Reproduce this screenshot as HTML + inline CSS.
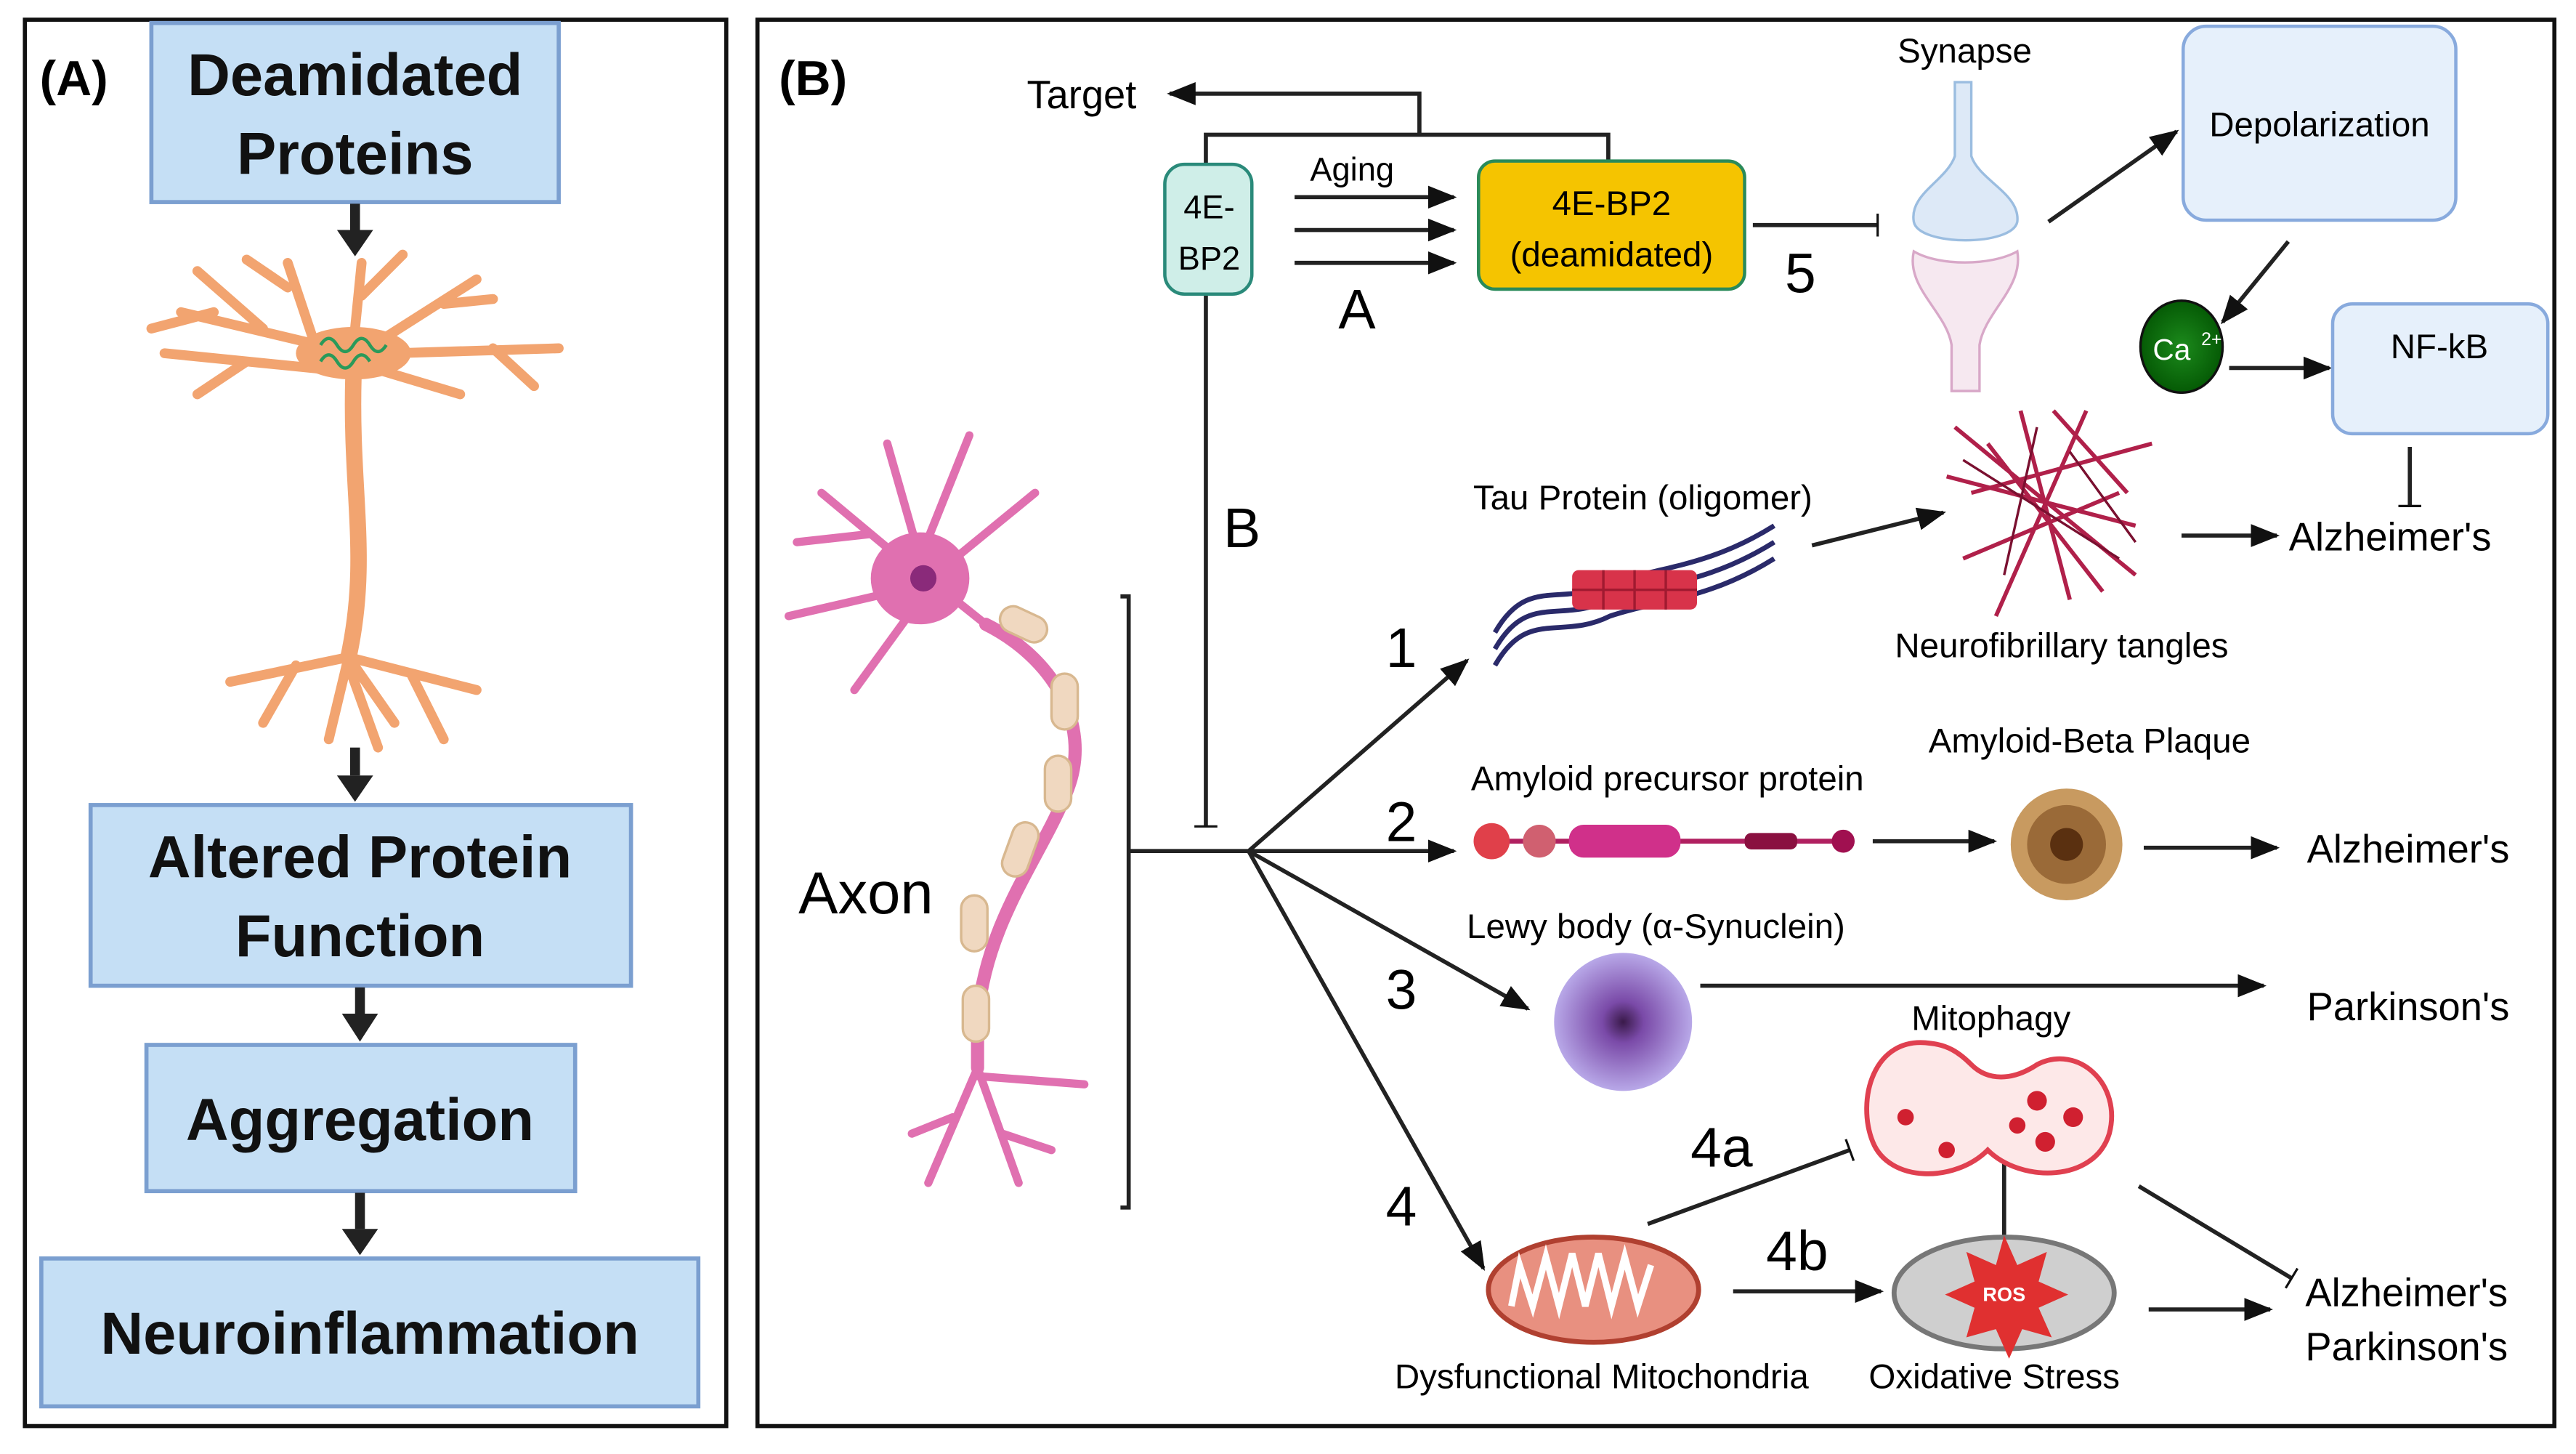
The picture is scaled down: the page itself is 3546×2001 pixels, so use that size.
<!DOCTYPE html>
<html><head><meta charset="utf-8"><style>
html,body{margin:0;padding:0;background:#fff;}
svg{display:block;}
text{font-family:"Liberation Sans",sans-serif;}
</style></head><body>
<svg width="3546" height="2001" viewBox="0 0 1568 885" xmlns="http://www.w3.org/2000/svg">
<defs>
<marker id="ah" viewBox="0 0 10 10" refX="9" refY="5" markerWidth="7" markerHeight="7" orient="auto-start-reverse"><path d="M0,1 L10,5 L0,9 z" fill="#111"/></marker>
<marker id="bar" viewBox="0 0 4 20" refX="2" refY="10" markerWidth="4" markerHeight="14" orient="auto" markerUnits="userSpaceOnUse"><rect x="1" y="0" width="2" height="20" fill="#111"/></marker>
<radialGradient id="lewy"><stop offset="0" stop-color="#3a1a4a"/><stop offset="0.3" stop-color="#7a4aa8"/><stop offset="1" stop-color="#b8a8e8"/></radialGradient>
<radialGradient id="ca"><stop offset="0" stop-color="#1c8a1c"/><stop offset="1" stop-color="#055a05"/></radialGradient>
</defs>
<rect width="1568" height="885" fill="#fff"/>
<!-- Panel A -->
<rect x="15" y="12" width="427" height="856" fill="none" stroke="#111" stroke-width="2.5"/>
<text x="24" y="58" font-size="30" font-weight="bold">(A)</text>
<g fill="#c5dff5" stroke="#7b9fd0" stroke-width="2.5">
<rect x="92" y="14" width="248" height="109"/>
<rect x="55" y="490" width="329" height="110"/>
<rect x="89" y="636" width="261" height="89"/>
<rect x="25" y="766" width="400" height="90"/>
</g>
<g font-weight="bold" font-size="36" text-anchor="middle" fill="#111">
<text x="216" y="58">Deamidated</text><text x="216" y="106">Proteins</text>
<text x="219" y="534">Altered Protein</text><text x="219" y="582">Function</text>
<text x="219" y="694">Aggregation</text>
<text x="225" y="824">Neuroinflammation</text>
</g>
<g stroke="#222" stroke-width="6">
<line x1="216" y1="124" x2="216" y2="140"/><line x1="216" y1="455" x2="216" y2="472"/>
<line x1="219" y1="601" x2="219" y2="617"/><line x1="219" y1="726" x2="219" y2="748"/>
</g>
<g fill="#222"><path d="M205,140 L227,140 L216,156z"/><path d="M205,472 L227,472 L216,488z"/><path d="M208,617 L230,617 L219,634z"/><path d="M208,748 L230,748 L219,764z"/></g>
<!-- orange neuron -->
<g stroke="#f2a470" stroke-width="6" fill="none" stroke-linecap="round">
<path d="M215,215 L110,190 M160,200 L120,165 M130,190 L92,200 M190,205 L175,160 M175,175 L150,158 M215,210 L220,160 M220,180 L245,155 M235,205 L290,170 M270,185 L300,182 M240,215 L340,212 M300,212 L325,235 M200,225 L100,215 M150,220 L120,240 M230,225 L280,240"/>
<path d="M215,230 C213,300 225,340 212,400" stroke-width="10"/>
<path d="M212,400 L140,415 M180,405 L160,440 M212,400 L200,450 M212,400 L240,440 M212,400 L290,420 M250,410 L270,450 M212,405 L230,455"/>
</g>
<ellipse cx="215" cy="215" rx="35" ry="16" fill="#f2a470"/>
<path d="M195,210 q5,-8 10,0 q5,8 10,0 q5,-8 10,0 q5,8 10,0 M195,220 q5,-8 10,0 q5,8 10,0 q5,-8 10,0" stroke="#2a9a5a" stroke-width="2" fill="none"/>
<!-- Panel B -->
<rect x="461" y="12" width="1094" height="856" fill="none" stroke="#111" stroke-width="2.5"/>
<text x="474" y="58" font-size="30" font-weight="bold">(B)</text>
<text x="625" y="66" font-size="24">Target</text>
<g stroke="#222" stroke-width="2.5" fill="none">
<path d="M864,82 L864,57 L712,57" marker-end="url(#ah)"/>
<path d="M734,100 L734,82 L979,82 L979,98"/>
<line x1="788" y1="120" x2="885" y2="120" marker-end="url(#ah)"/>
<line x1="788" y1="140" x2="885" y2="140" marker-end="url(#ah)"/>
<line x1="788" y1="160" x2="885" y2="160" marker-end="url(#ah)"/>
<line x1="1067" y1="137" x2="1143" y2="137" marker-end="url(#bar)"/>
<line x1="734" y1="180" x2="734" y2="503" marker-end="url(#bar)"/>
<line x1="1247" y1="135" x2="1325" y2="80" marker-end="url(#ah)"/>
<line x1="1393" y1="147" x2="1353" y2="196" marker-end="url(#ah)"/>
<line x1="1357" y1="224" x2="1418" y2="224" marker-end="url(#ah)"/>
<line x1="1467" y1="272" x2="1467" y2="308" marker-end="url(#bar)"/>
<line x1="1103" y1="332" x2="1183" y2="312" marker-end="url(#ah)"/>
<line x1="1328" y1="326" x2="1386" y2="326" marker-end="url(#ah)"/>
<path d="M682,363 L687,363 L687,735 L682,735"/>
<line x1="687" y1="518" x2="760" y2="518"/>
<line x1="760" y1="518" x2="893" y2="402" marker-end="url(#ah)"/>
<line x1="760" y1="518" x2="885" y2="518" marker-end="url(#ah)"/>
<line x1="760" y1="518" x2="930" y2="614" marker-end="url(#ah)"/>
<line x1="760" y1="518" x2="903" y2="772" marker-end="url(#ah)"/>
<line x1="1140" y1="512" x2="1214" y2="512" marker-end="url(#ah)"/>
<line x1="1305" y1="516" x2="1386" y2="516" marker-end="url(#ah)"/>
<line x1="1035" y1="600" x2="1378" y2="600" marker-end="url(#ah)"/>
<line x1="1003" y1="745" x2="1126" y2="700" marker-end="url(#bar)"/>
<line x1="1055" y1="786" x2="1145" y2="786" marker-end="url(#ah)"/>
<line x1="1220" y1="760" x2="1220" y2="703" marker-end="url(#bar)"/>
<line x1="1302" y1="722" x2="1395" y2="778" marker-end="url(#bar)"/>
<line x1="1308" y1="797" x2="1382" y2="797" marker-end="url(#ah)"/>
</g>
<rect x="709" y="100" width="53" height="79" rx="12" fill="#cfeee8" stroke="#2a8a7a" stroke-width="2"/>
<text x="736" y="133" font-size="20" text-anchor="middle">4E-</text><text x="736" y="164" font-size="20" text-anchor="middle">BP2</text>
<text x="823" y="110" font-size="20" text-anchor="middle">Aging</text>
<text x="826" y="200" font-size="34" text-anchor="middle">A</text>
<rect x="900" y="98" width="162" height="78" rx="10" fill="#f5c400" stroke="#2a8a5a" stroke-width="2"/>
<text x="981" y="131" font-size="21" text-anchor="middle">4E-BP2</text>
<text x="981" y="162" font-size="21" text-anchor="middle">(deamidated)</text>
<text x="1096" y="178" font-size="34" text-anchor="middle">5</text>
<text x="1196" y="38" font-size="21" text-anchor="middle">Synapse</text>
<path d="M1190,50 L1190,95 C1185,110 1162,118 1165,135 C1168,150 1225,150 1228,135 C1230,118 1205,110 1200,95 L1200,50 z" fill="#dde9f7" stroke="#9bbde0" stroke-width="1.5"/>
<path d="M1165,153 C1180,162 1212,162 1228,153 C1232,175 1208,190 1205,210 L1205,238 L1188,238 L1188,210 C1185,190 1160,175 1165,153 z" fill="#f6e8f0" stroke="#d8a8c8" stroke-width="1.5"/>
<rect x="1329" y="16" width="166" height="118" rx="14" fill="#e6f0fb" stroke="#88aadd" stroke-width="2"/>
<text x="1412" y="83" font-size="21" text-anchor="middle">Depolarization</text>
<ellipse cx="1328" cy="211" rx="25" ry="28" fill="url(#ca)" stroke="#111" stroke-width="1.5"/>
<text x="1322" y="219" font-size="18" fill="#fff" text-anchor="middle">Ca</text><text x="1340" y="210" font-size="11" fill="#fff">2+</text>
<rect x="1420" y="185" width="131" height="79" rx="12" fill="#e6f0fb" stroke="#88aadd" stroke-width="2"/>
<text x="1485" y="218" font-size="21" text-anchor="middle">NF-kB</text>
<!-- tangles -->
<g stroke="#b0204a" stroke-width="2.5" fill="none">
<path d="M1190,260 L1300,350 M1200,300 L1310,270 M1195,340 L1290,300 M1230,250 L1260,365 M1270,250 L1215,375 M1185,290 L1300,320 M1210,270 L1280,360 M1250,250 L1295,300"/>
</g>
<g stroke="#7a1030" stroke-width="1.5" fill="none"><path d="M1195,280 L1290,340 M1240,260 L1220,350 M1260,275 L1300,330"/></g>
<text x="1000" y="310" font-size="21" text-anchor="middle">Tau Protein (oligomer)</text>
<g stroke="#2a2a6a" stroke-width="3" fill="none">
<path d="M910,385 C930,350 950,370 980,355 C1010,345 1040,345 1080,320"/>
<path d="M910,395 C930,360 950,380 980,365 C1010,355 1040,355 1080,330"/>
<path d="M910,405 C930,370 950,390 980,375 C1010,365 1040,365 1080,340"/>
</g>
<g fill="#d8334a"><rect x="957" y="347" width="76" height="24" rx="4"/></g>
<g stroke="#a01a30" stroke-width="1.5"><line x1="976" y1="347" x2="976" y2="371"/><line x1="995" y1="347" x2="995" y2="371"/><line x1="1014" y1="347" x2="1014" y2="371"/><line x1="957" y1="359" x2="1033" y2="359"/></g>
<text x="1148" y="334" font-size="0"> </text>
<text x="1255" y="400" font-size="21" text-anchor="middle">Neurofibrillary tangles</text>
<text x="1455" y="335" font-size="24" text-anchor="middle">Alzheimer's</text>
<text x="756" y="333" font-size="34" text-anchor="middle">B</text>
<text x="853" y="406" font-size="34" text-anchor="middle">1</text>
<text x="853" y="512" font-size="34" text-anchor="middle">2</text>
<text x="853" y="614" font-size="34" text-anchor="middle">3</text>
<text x="853" y="746" font-size="34" text-anchor="middle">4</text>
<text x="1015" y="481" font-size="21" text-anchor="middle">Amyloid precursor protein</text>
<line x1="905" y1="512" x2="1125" y2="512" stroke="#b02060" stroke-width="3"/>
<circle cx="908" cy="512" r="11" fill="#e0404a"/><circle cx="937" cy="512" r="10" fill="#d06070"/>
<rect x="955" y="502" width="68" height="20" rx="9" fill="#d0308a"/>
<rect x="1062" y="507" width="32" height="10" rx="4" fill="#8a1040"/><circle cx="1122" cy="512" r="7" fill="#a01050"/>
<text x="1272" y="458" font-size="21" text-anchor="middle">Amyloid-Beta Plaque</text>
<circle cx="1258" cy="514" r="34" fill="#c89a60"/><circle cx="1258" cy="514" r="24" fill="#9a6a38"/><circle cx="1258" cy="514" r="10" fill="#5a3010"/>
<text x="1466" y="525" font-size="24" text-anchor="middle">Alzheimer's</text>
<text x="1008" y="571" font-size="21" text-anchor="middle">Lewy body (α-Synuclein)</text>
<circle cx="988" cy="622" r="42" fill="url(#lewy)"/>
<text x="1466" y="621" font-size="24" text-anchor="middle">Parkinson's</text>
<text x="1212" y="627" font-size="21" text-anchor="middle">Mitophagy</text>
<path d="M1175,635 C1140,630 1130,670 1140,695 C1150,720 1190,720 1210,700 C1230,720 1275,720 1284,690 C1292,660 1265,635 1240,648 C1225,658 1210,658 1200,648 C1192,640 1185,636 1175,635 z" fill="#fde8e8" stroke="#e04050" stroke-width="3"/>
<g fill="#d02030"><circle cx="1240" cy="670" r="6"/><circle cx="1262" cy="680" r="6"/><circle cx="1245" cy="695" r="6"/><circle cx="1228" cy="685" r="5"/><circle cx="1160" cy="680" r="5"/><circle cx="1185" cy="700" r="5"/></g>
<text x="1048" y="710" font-size="34" text-anchor="middle">4a</text>
<text x="1094" y="773" font-size="34" text-anchor="middle">4b</text>
<ellipse cx="970" cy="785" rx="64" ry="32" fill="#e89080" stroke="#b04030" stroke-width="3"/>
<path d="M920,795 l5,-25 l8,25 l8,-30 l8,30 l8,-32 l8,32 l8,-32 l8,32 l8,-30 l8,30 l8,-25" stroke="#fff" stroke-width="4" fill="none"/>
<ellipse cx="1220" cy="787" rx="67" ry="34" fill="#cfcfcf" stroke="#777" stroke-width="3"/>
<path d="M1220,752 l8,18 l18,-8 l-5,18 l18,8 l-18,8 l8,18 l-18,-5 l-8,18 l-8,-18 l-18,5 l5,-18 l-18,-8 l18,-8 l-5,-18 l18,8 z" fill="#e03030"/>
<text x="1220" y="792" font-size="12" fill="#fff" text-anchor="middle" font-weight="bold">ROS</text>
<text x="975" y="845" font-size="21" text-anchor="middle">Dysfunctional Mitochondria</text>
<text x="1214" y="845" font-size="21" text-anchor="middle">Oxidative Stress</text>
<text x="1465" y="795" font-size="24" text-anchor="middle">Alzheimer's</text>
<text x="1465" y="828" font-size="24" text-anchor="middle">Parkinson's</text>
<text x="527" y="556" font-size="36" text-anchor="middle">Axon</text>
<!-- pink neuron -->
<g stroke="#e070b0" stroke-width="5" fill="none" stroke-linecap="round">
<path d="M560,350 L500,300 M530,325 L485,330 M545,360 L480,375 M560,340 L540,270 M560,340 L590,265 M575,345 L630,300 M560,365 L520,420 M575,360 L600,380"/>
<path d="M600,380 C640,400 665,440 650,480 C635,520 600,560 595,620 L595,650" stroke-width="8"/>
<path d="M595,650 L565,720 M595,650 L620,720 M595,655 L660,660 M580,680 L555,690 M610,690 L640,700"/>
</g>
<ellipse cx="560" cy="352" rx="30" ry="28" fill="#e070b0"/><circle cx="562" cy="352" r="8" fill="#8a2a7a"/>
<g fill="#f0d8c0" stroke="#d8b890" stroke-width="1.5">
<rect x="608" y="372" width="30" height="16" rx="8" transform="rotate(25 623 380)"/>
<rect x="640" y="410" width="16" height="34" rx="8"/>
<rect x="636" y="460" width="16" height="34" rx="8"/>
<rect x="613" y="500" width="16" height="34" rx="8" transform="rotate(20 621 517)"/>
<rect x="585" y="545" width="16" height="34" rx="8"/>
<rect x="586" y="600" width="16" height="34" rx="8"/>
</g>
</svg>
</body></html>
